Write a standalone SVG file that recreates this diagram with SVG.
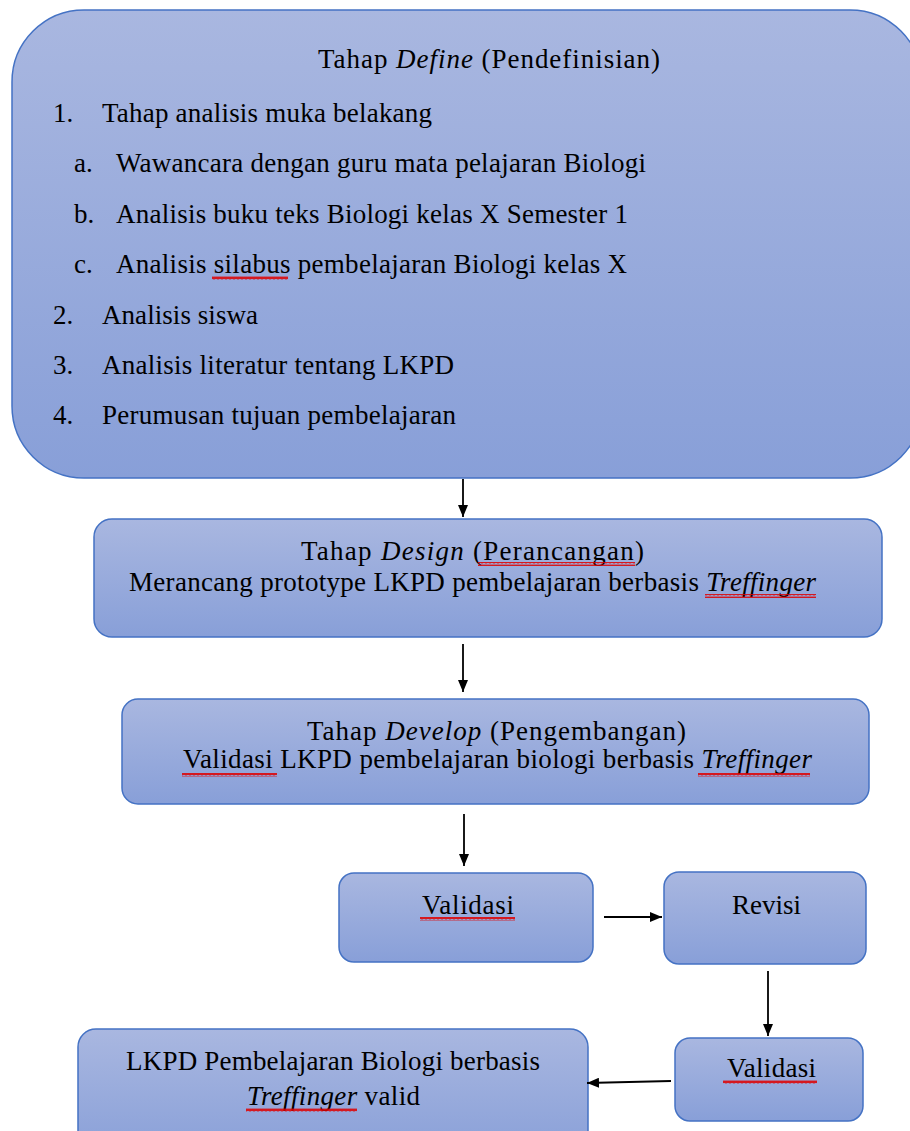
<svg xmlns="http://www.w3.org/2000/svg" width="910" height="1131" viewBox="0 0 910 1131">
  <defs>
    <linearGradient id="fillG" x1="0" y1="0" x2="0" y2="1">
      <stop offset="0" stop-color="#a9b7e0"/>
      <stop offset="1" stop-color="#889fd8"/>
    </linearGradient>
    <marker id="ah" markerWidth="12" markerHeight="10" refX="12" refY="5" orient="auto" markerUnits="userSpaceOnUse">
      <path d="M0,0 L12,5 L0,10 z" fill="#000"/>
    </marker>
    <pattern id="wavy" width="4" height="4" patternUnits="userSpaceOnUse">
      <path d="M0,3 L1,1 L2,3 L3,1 L4,3" fill="none" stroke="#e00000" stroke-width="1.1"/>
    </pattern>
    <style>
      .box { fill: url(#fillG); stroke: #4472c4; stroke-width: 1.5; }
      .t { font-family: "Liberation Serif", "Times New Roman", serif; font-size: 27px; fill: #000; }
      .i { font-style: italic; }
      .conn line { stroke: #000; stroke-width: 1.8; marker-end: url(#ah); }
      .wv { fill: url(#wavy); }
    </style>
  </defs>

  <g id="node-define">
    <rect class="box" x="12" y="10" width="910" height="468" rx="72" ry="72"/>
    <text class="t" x="318" y="68" textLength="342" lengthAdjust="spacing">Tahap <tspan class="i">Define</tspan> (Pendefinisian)</text>
    <text class="t" x="53" y="122">1.</text>
    <text class="t" x="102" y="122" textLength="330" lengthAdjust="spacing">Tahap analisis muka belakang</text>
    <text class="t" x="74" y="172">a.</text>
    <text class="t" x="116" y="172" textLength="530" lengthAdjust="spacing">Wawancara dengan guru mata pelajaran Biologi</text>
    <text class="t" x="74" y="223">b.</text>
    <text class="t" x="116" y="223" textLength="512" lengthAdjust="spacing">Analisis buku teks Biologi kelas X Semester 1</text>
    <text class="t" x="74" y="273">c.</text>
    <text class="t" x="116" y="273" textLength="511" lengthAdjust="spacing">Analisis silabus pembelajaran Biologi kelas X</text>
    <rect class="wv" x="212" y="276" width="76" height="4"/>
    <text class="t" x="53" y="324">2.</text>
    <text class="t" x="102" y="324" textLength="156" lengthAdjust="spacing">Analisis siswa</text>
    <text class="t" x="53" y="374">3.</text>
    <text class="t" x="102" y="374" textLength="352" lengthAdjust="spacing">Analisis literatur tentang LKPD</text>
    <text class="t" x="53" y="424">4.</text>
    <text class="t" x="102" y="424" textLength="354" lengthAdjust="spacing">Perumusan tujuan pembelajaran</text>
  </g>

  <g id="node-design">
    <rect class="box" x="94" y="519" width="788" height="118" rx="18" ry="18"/>
    <text class="t" x="301" y="560" textLength="343" lengthAdjust="spacing">Tahap <tspan class="i">Design</tspan> (Perancangan)</text>
    <rect class="wv" x="478" y="562" width="157" height="4"/>
    <text class="t" x="129" y="591" textLength="687" lengthAdjust="spacing">Merancang prototype LKPD pembelajaran berbasis <tspan class="i">Treffinger</tspan></text>
    <rect class="wv" x="705" y="594" width="111" height="4"/>
  </g>

  <g id="node-develop">
    <rect class="box" x="122" y="699" width="747" height="105" rx="16" ry="16"/>
    <text class="t" x="307" y="740" textLength="379" lengthAdjust="spacing">Tahap <tspan class="i">Develop</tspan> (Pengembangan)</text>
    <text class="t" x="183" y="768" textLength="629" lengthAdjust="spacing">Validasi LKPD pembelajaran biologi berbasis <tspan class="i">Treffinger</tspan></text>
    <rect class="wv" x="182" y="773" width="95" height="4"/>
    <rect class="wv" x="698" y="773" width="112" height="4"/>
  </g>

  <g id="node-validasi1">
    <rect class="box" x="339" y="873" width="254" height="89" rx="15" ry="15"/>
    <text class="t" x="422" y="914" textLength="92" lengthAdjust="spacing">Validasi</text>
    <rect class="wv" x="420" y="917" width="95" height="4"/>
  </g>

  <g id="node-revisi">
    <rect class="box" x="664" y="872" width="202" height="92" rx="15" ry="15"/>
    <text class="t" x="732" y="914" textLength="69" lengthAdjust="spacing">Revisi</text>
  </g>

  <g id="node-validasi2">
    <rect class="box" x="675" y="1038" width="188" height="83" rx="15" ry="15"/>
    <text class="t" x="727" y="1077" textLength="89" lengthAdjust="spacing">Validasi</text>
    <rect class="wv" x="723" y="1080" width="94" height="4"/>
  </g>

  <g id="node-lkpd">
    <rect class="box" x="78" y="1029" width="510" height="130" rx="18" ry="18"/>
    <text class="t" x="126" y="1070" textLength="414" lengthAdjust="spacing">LKPD Pembelajaran Biologi berbasis</text>
    <text class="t" x="247" y="1105" textLength="173" lengthAdjust="spacing"><tspan class="i">Treffinger</tspan> valid</text>
    <rect class="wv" x="246" y="1108" width="111" height="4"/>
  </g>

  <g id="connectors" class="conn">
    <line x1="463" y1="479" x2="463" y2="517"/>
    <line x1="463" y1="644" x2="463" y2="692"/>
    <line x1="464" y1="814" x2="464" y2="866"/>
    <line x1="604" y1="917" x2="662" y2="917"/>
    <line x1="768" y1="971" x2="768" y2="1036"/>
    <line x1="671" y1="1081" x2="587" y2="1083"/>
  </g>
</svg>
